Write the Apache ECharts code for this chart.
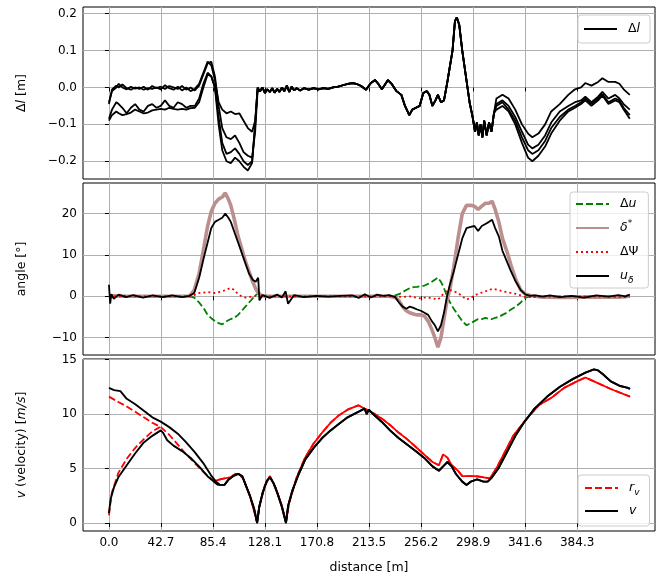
<!DOCTYPE html>
<html>
<head>
<meta charset="utf-8">
<script src="https://cdn.jsdelivr.net/npm/echarts@6/dist/echarts.min.js"></script>
<style>
html, body { margin: 0; padding: 0; background: #fff; }
#chart { width: 665px; height: 579px; }
</style>
</head>
<body>
<div id="chart"></div>
<script>
// ---- tick labels ----
const distTicks = [0.0, 42.7, 85.4, 128.1, 170.8, 213.5, 256.2, 298.9, 341.6, 384.3];
const dlTicks = [-0.2, -0.1, 0.0, 0.1, 0.2];
const angTicks = [-10, 0, 10, 20];
const velTicks = [0, 5, 10, 15];

// ---- top panel: Δl, four laps ----
const dlXStart = [0, 2.5, 6, 8, 11, 14.5, 18, 21.5, 25, 28.5, 32, 35.5, 39, 42.5, 46, 49.5, 53, 56.5, 60, 63.5, 67, 70.5, 74, 77.5, 81, 84, 87, 90, 93, 96.5, 100, 103.5, 107, 110.5, 114, 117.5, 120, 122];
const dlAStart = [-0.04, -0.01, 0.0, 0.01, 0.0, -0.005, 0.002, -0.003, 0.0, -0.006, -0.002, -0.004, 0.0, -0.005, 0.006, -0.002, -0.006, 0.002, -0.008, 0.0, -0.01, -0.004, 0.01, 0.04, 0.07, 0.06, 0.02, -0.04, -0.06, -0.07, -0.065, -0.072, -0.07, -0.09, -0.11, -0.12, -0.09, -0.005];
const dlBStart = [-0.045, -0.005, 0.005, 0.0, 0.008, -0.002, -0.006, 0.0, -0.004, 0.002, -0.006, 0.004, -0.002, 0.002, -0.004, 0.004, 0.0, -0.004, 0.004, -0.006, 0.0, -0.008, 0.005, 0.035, 0.065, 0.07, 0.03, -0.05, -0.11, -0.135, -0.14, -0.13, -0.15, -0.175, -0.185, -0.19, -0.12, -0.01];
const dlCStart = [-0.085, -0.06, -0.04, -0.045, -0.055, -0.07, -0.055, -0.045, -0.06, -0.065, -0.05, -0.045, -0.055, -0.05, -0.035, -0.05, -0.055, -0.04, -0.045, -0.055, -0.05, -0.05, -0.03, 0.01, 0.04, 0.03, 0.0, -0.08, -0.15, -0.18, -0.175, -0.165, -0.18, -0.2, -0.21, -0.2, -0.1, 0.0];
const dlDStart = [-0.09, -0.075, -0.065, -0.07, -0.075, -0.072, -0.068, -0.06, -0.065, -0.07, -0.068, -0.062, -0.06, -0.058, -0.06, -0.055, -0.058, -0.06, -0.058, -0.06, -0.056, -0.055, -0.04, 0.0, 0.035, 0.03, 0.0, -0.1, -0.17, -0.2, -0.205, -0.19, -0.2, -0.215, -0.225, -0.205, -0.1, 0.0];

// laps overlap here
const dlXMid = [124, 126, 128, 130, 132, 134, 136, 138, 140, 142, 144, 146, 148, 150, 152, 154, 157, 160, 164, 168, 172, 176, 180, 184, 188, 192, 196, 200, 203, 207, 211, 215, 218.5, 221, 224, 227, 229, 232, 236, 240, 243, 246.5, 249, 252, 255, 258, 261, 263, 265.5, 268, 270, 272.5, 275, 277.5, 279.5, 282, 284, 285.5, 287.5, 290, 293, 296, 298.5, 300.5, 302, 303.5, 305, 306.5, 308, 310, 312, 314, 316];
const dlMid = [-0.01, 0.0, -0.015, -0.005, -0.012, -0.002, -0.014, -0.004, -0.012, 0.0, -0.01, 0.005, -0.012, 0.002, -0.008, -0.002, -0.008, -0.002, -0.006, -0.002, -0.005, -0.002, -0.004, 0.0, 0.002, 0.006, 0.01, 0.012, 0.01, 0.004, -0.006, 0.012, 0.02, 0.01, -0.005, 0.01, 0.02, 0.01, -0.01, -0.02, -0.05, -0.075, -0.06, -0.055, -0.05, -0.015, -0.01, -0.02, -0.05, -0.035, -0.02, -0.04, -0.035, 0.01, 0.05, 0.1, 0.18, 0.19, 0.17, 0.1, 0.03, -0.04, -0.08, -0.12, -0.095, -0.13, -0.1, -0.135, -0.09, -0.13, -0.095, -0.12, -0.07];

const dlXEnd = [318, 323, 328, 333.5, 339, 344, 347.5, 352.5, 358, 363, 370, 377, 382.5, 387.5, 391, 396, 401.5, 405, 410, 415.5, 419, 422.5, 427.5];
const dlAEnd = [-0.03, -0.02, -0.03, -0.06, -0.1, -0.125, -0.135, -0.125, -0.1, -0.065, -0.045, -0.02, -0.005, 0.0, 0.012, 0.005, 0.015, 0.025, 0.015, 0.015, 0.01, -0.005, -0.02];
const dlBEnd = [-0.045, -0.035, -0.05, -0.08, -0.12, -0.155, -0.165, -0.155, -0.13, -0.095, -0.065, -0.05, -0.04, -0.035, -0.025, -0.04, -0.025, -0.012, -0.03, -0.02, -0.03, -0.045, -0.06];
const dlCEnd = [-0.05, -0.04, -0.06, -0.09, -0.135, -0.17, -0.18, -0.17, -0.145, -0.11, -0.08, -0.06, -0.05, -0.04, -0.03, -0.045, -0.03, -0.018, -0.04, -0.03, -0.035, -0.055, -0.075];
const dlDEnd = [-0.06, -0.05, -0.065, -0.1, -0.15, -0.19, -0.2, -0.185, -0.16, -0.125, -0.09, -0.065, -0.055, -0.045, -0.035, -0.05, -0.035, -0.022, -0.045, -0.035, -0.04, -0.06, -0.085];

// ---- middle panel: angles ----
const angX = [0, 1, 2, 4, 8, 14, 20, 28, 36, 44, 52, 60, 66, 70, 74, 78, 81, 84, 87, 90, 93, 95.5, 98, 100, 103, 106, 109, 112, 115, 118, 120.5, 122.5, 123.5, 126, 132, 138, 142, 145, 147, 152, 160, 170, 180, 190, 200, 205, 210, 215, 220, 225, 230, 235, 238, 241, 244, 247, 250, 253, 256, 259, 262, 265, 267.5, 270, 272.5, 275, 277.5, 280, 283, 286.5, 290, 293.5, 297, 300, 303, 306, 309, 312, 314.5, 317, 320, 323, 326.5, 330, 334, 338, 342, 346, 350, 356, 362, 370, 380, 390, 400, 410, 418, 424, 427.5];
const duVals = [0, 0, 0, 0, 0, 0, 0, 0, 0, 0, 0, 0, 0, -0.3, -1.5, -3, -4.5, -5.3, -6, -6.5, -6.8, -6.2, -5.8, -5.5, -5.2, -4.5, -3.5, -2.5, -1.5, -0.5, 0.3, 0.6, 0.2, 0, 0, 0, 0, 0, 0, 0, 0, 0, 0, 0, 0, 0, 0, 0, 0, 0, 0, 0.2, 0.5, 1, 1.5, 2, 2.2, 2.3, 2.5, 2.6, 3, 3.5, 4, 4.5, 3.5, 2, 0, -1.5, -3, -4.5, -6, -7, -6.5, -6, -5.5, -5.5, -5.2, -5.5, -5.5, -5.2, -5, -4.5, -4, -3.2, -2.5, -1.5, -0.3, 0, 0, 0, 0, 0, 0, 0, 0, 0, 0, 0, 0];
const dsVals = [0, 0, 0, 0.1, 0.1, 0, 0, 0, 0, 0, 0, 0, 0, 1.5, 5.5, 12, 17, 20.5, 22.5, 23.5, 24, 25, 23.5, 22, 18.5, 14.5, 11.5, 8.5, 6, 3.5, 1.8, 0.8, 0.4, 0.1, 0, 0, 0, 0, 0, 0, 0, 0, 0, 0, 0, 0, 0, 0, 0, 0, 0, -0.3, -1, -2.5, -3.5, -4, -4.3, -4.5, -4.5, -4.8, -6, -8, -10, -12.3, -10, -5.5, -1, 2, 7, 14, 20, 22, 22, 21.8, 21, 21.8, 22.5, 22.5, 23, 21, 18, 14, 11, 7.5, 4, 1.5, 0.5, 0.2, 0, -0.2, -0.2, -0.3, -0.3, -0.2, -0.2, -0.2, -0.2, -0.1, 0.2];
const dpsiVals = [0, 0, 0, 0, 0, 0.1, 0, 0, 0, 0, 0, 0, 0, 0.3, 0.8, 0.9, 1, 0.9, 0.8, 1, 1.2, 1.5, 1.8, 2, 1.5, 0.5, 0, -0.3, -0.2, 0, 0.1, 0, 0, 0, 0, 0, 0, 0, 0, 0, 0, 0, 0, 0, 0, 0, 0, 0, 0, 0, 0, 0, -0.1, -0.2, -0.1, 0, -0.2, -0.4, -0.5, -0.3, -0.3, -0.5, -0.6, -0.8, -0.1, 0.8, 1.3, 1.5, 1.2, 0.8, 0, -0.8, -0.4, 0.2, 0.6, 0.9, 1.2, 1.5, 1.8, 1.7, 1.5, 1.2, 1, 0.8, 0.6, 0.2, -0.2, -0.2, -0.2, -0.1, -0.1, -0.1, -0.1, -0.1, -0.1, -0.1, -0.2, -0.2, -0.1];
const udVals = [2.8, -1.8, 0.5, -0.6, 0.4, -0.2, 0.3, -0.3, 0.2, -0.2, 0.2, -0.2, 0.1, 0.8, 4.5, 9.5, 13, 16.5, 18, 18.5, 19, 20, 19, 18, 15.5, 13, 10.5, 8, 5.5, 4, 3.5, 4.5, -1, 0.3, -0.4, 0.4, -0.3, 1.2, -1.8, 0.3, -0.2, 0.1, -0.1, 0.1, 0.2, -0.4, 0.5, -0.3, 0.4, 0.1, 0.3, -0.2, -1.5, -2.5, -3, -2.5, -2.8, -3.2, -3.5, -4, -4.5, -6, -7, -8.5, -7, -4, 0, 3, 6, 10, 14, 16.5, 16.8, 17, 15.8, 17, 17.5, 18, 18.5, 16.5, 14.5, 11, 8.5, 6, 3.5, 1.5, 0.4, 0.1, 0.2, -0.1, 0.2, -0.2, 0.1, -0.3, 0.2, -0.1, 0.3, 0, 0.4];

// ---- bottom panel: velocity ----
const rvDownX = [0, 7.7, 14.6, 21.6, 28.6, 35.6, 42.5];
const rvDown = [11.6, 11.1, 10.7, 10.2, 9.7, 9.2, 8.8];
const rvUpX = [0, 1.4, 2.4, 7.7, 14.6, 21.6, 28.6, 35.6, 41.8];
const rvUp = [0.7, 2.0, 2.8, 4.6, 5.9, 6.9, 7.7, 8.4, 8.8];
const rvX = [42.5, 49.5, 56.5, 63.4, 70.4, 77.4, 84.3, 87.8, 91.3, 94.8, 100.0, 103.5, 107.0, 110.5, 115.7, 121.6, 123.4, 127.9, 132.1, 136.6, 141.9, 145.3, 147.8, 154.1, 161.0, 168.0, 175.0, 181.9, 188.9, 195.9, 204.6, 209.8, 216.8, 223.8, 230.7, 237.7, 244.7, 251.7, 258.6, 265.6, 270.8, 274.3, 277.8, 281.3, 286.5, 290.0, 293.5, 300.5, 307.4, 312.7, 317.9, 324.9, 331.8, 342.3, 352.7, 363.2, 373.6, 384.1, 391.1, 398.1, 411.9, 427.7];
const rvVals = [8.8, 8.1, 7.2, 6.3, 5.5, 4.7, 4.0, 3.9, 4.0, 4.1, 4.2, 4.5, 4.5, 4.0, 2.5, 0.1, 1.5, 3.4, 4.3, 3.3, 1.6, 0.1, 1.8, 4.2, 6.0, 7.3, 8.3, 9.2, 9.9, 10.4, 10.8, 10.5, 10.1, 9.6, 9.0, 8.3, 7.7, 7.0, 6.3, 5.6, 5.3, 6.3, 6.0, 5.3, 4.8, 4.3, 4.3, 4.3, 4.2, 4.1, 5.0, 6.5, 8.0, 9.5, 10.8, 11.5, 12.4, 13.0, 13.35, 13.0, 12.3, 11.6];

const vDownX = [0, 4.2, 9.4, 14.6, 21.6, 28.6, 35.6, 42.5, 49.5, 56.5, 63.4, 70.4, 77.4, 84.3, 87.8, 91.3];
const vDown = [12.4, 12.2, 12.1, 11.4, 10.9, 10.3, 9.7, 9.3, 8.8, 8.2, 7.4, 6.5, 5.5, 4.3, 3.8, 3.5];
const vUpX = [0, 1.4, 4.2, 7.7, 14.6, 21.6, 28.6, 35.6, 42.5, 44.3, 47.8, 53.0, 60.0, 66.9, 73.9, 80.9, 86.1, 89.6, 93.1];
const vUp = [0.9, 2.2, 3.3, 4.2, 5.3, 6.4, 7.4, 8.0, 8.5, 8.3, 7.6, 7.1, 6.6, 6.0, 5.2, 4.3, 3.8, 3.5, 3.5];
const vX = [94.8, 98.3, 101.8, 106.0, 109.4, 112.2, 115.7, 119.2, 121.6, 123.4, 126.2, 129.7, 132.1, 134.9, 138.4, 141.9, 145.3, 147.1, 150.6, 155.8, 161.0, 168.0, 175.0, 181.9, 188.9, 195.9, 204.6, 209.8, 211.6, 213.3, 216.8, 223.8, 230.7, 237.7, 244.7, 251.7, 258.6, 265.6, 270.8, 274.3, 277.8, 281.3, 284.8, 290.0, 293.5, 297.0, 302.2, 307.4, 310.9, 314.4, 319.6, 326.6, 333.6, 340.5, 349.3, 359.7, 370.2, 380.6, 391.1, 398.1, 401.5, 405.0, 411.9, 418.9, 425.9, 427.7];
const vVals = [3.5, 4.0, 4.3, 4.5, 4.3, 3.5, 2.5, 1.3, 0, 1.5, 2.8, 3.9, 4.2, 3.7, 2.7, 1.5, 0, 1.6, 3.0, 4.5, 5.8, 6.9, 7.8, 8.5, 9.1, 9.7, 10.2, 10.5, 10.0, 10.4, 10.0, 9.3, 8.5, 7.8, 7.2, 6.6, 6.0, 5.2, 4.8, 5.2, 5.6, 5.2, 4.5, 3.8, 3.5, 3.8, 4.0, 3.8, 3.8, 4.2, 5.0, 6.5, 8.0, 9.2, 10.5, 11.6, 12.5, 13.2, 13.8, 14.1, 14.0, 13.7, 13.0, 12.6, 12.4, 12.3];

const FONT = 'DejaVu Sans';

function pairs(xs, ys) {
    return xs.map(function (x, i) { return [x, ys[i]]; });
}
function minus(s) { return s.replace('-', '\u2212'); }

const rich = {
    i: { fontFamily: FONT, fontStyle: 'italic', fontSize: 12.5, lineHeight: 18 },
    sub: { fontFamily: FONT, fontStyle: 'italic', fontSize: 9, lineHeight: 8, verticalAlign: 'bottom' },
    sup: { fontFamily: FONT, fontSize: 9, lineHeight: 9, verticalAlign: 'top' }
};
const legendLabels = {
    dl: 'Δ{i|l}', du: 'Δ{i|u}', ds: '{i|δ}{sup|*}', dpsi: 'ΔΨ',
    ud: '{i|u}{sub|δ}', rv: '{i|r}{sub|v}', v: '{i|v}'
};

function xAx(idx, showLabel) {
    return {
        type: 'value', gridIndex: idx, min: -21.3, max: 448.2,
        name: showLabel ? 'distance [m]' : '',
        nameLocation: 'middle', nameGap: 30,
        nameTextStyle: { fontFamily: FONT, fontSize: 12.5, color: '#000' },
        axisLine: { show: false },
        axisTick: { show: true, length: 4, lineStyle: { color: '#000', width: 1 }, customValues: distTicks },
        axisLabel: {
            show: showLabel, customValues: distTicks, margin: 6,
            color: '#000', fontFamily: FONT, fontSize: 12,
            formatter: function (v) { return v.toFixed(1); }
        },
        splitLine: { show: true, lineStyle: { color: '#b0b0b0', width: 1 } }
    };
}
function yAx(idx, min, max, ticks, digits, name) {
    return {
        type: 'value', gridIndex: idx, min: min, max: max,
        name: name, nameLocation: 'middle', nameGap: 52, nameRotate: 90,
        nameTextStyle: { fontFamily: FONT, fontSize: 12.5, color: '#000', lineHeight: 18, rich: rich },
        axisLine: { show: false },
        axisTick: { show: true, length: 4, lineStyle: { color: '#000', width: 1 }, customValues: ticks },
        axisLabel: {
            customValues: ticks, margin: 6, color: '#000', fontFamily: FONT, fontSize: 12,
            formatter: function (v) { return minus(v.toFixed(digits)); }
        },
        splitLine: { show: true, lineStyle: { color: '#b0b0b0', width: 1 } }
    };
}
function legendBox(names, left, top, gap, padding) {
    return {
        data: names, orient: 'vertical', left: left, top: top,
        itemWidth: 33, itemHeight: 12, itemGap: gap, padding: padding,
        selectedMode: false, align: 'left',
        // hide the marker circle, keep only the line
        itemStyle: { color: 'transparent', borderColor: 'transparent', borderWidth: 0, opacity: 0 },
        backgroundColor: 'rgba(255,255,255,0.8)', borderColor: '#cccccc', borderWidth: 1, borderRadius: 3,
        textStyle: { fontFamily: FONT, fontSize: 12.5, color: '#000', lineHeight: 18, padding: [0, 0, 0, 6], rich: rich },
        formatter: function (n) { return legendLabels[n]; }
    };
}
function line(name, xi, data, color, width, type, z) {
    return {
        name: name, type: 'line', xAxisIndex: xi, yAxisIndex: xi, data: data,
        symbol: 'none', showSymbol: false, animation: false, z: z || 2,
        lineStyle: { color: color, width: width, type: type || 'solid' },
        itemStyle: { color: color }
    };
}

const chart = echarts.init(document.getElementById('chart'));
const gridBase = { left: 83, right: 10, height: 172, show: true, borderColor: '#000', borderWidth: 1, backgroundColor: 'transparent' };

chart.setOption({
    animation: false,
    backgroundColor: '#fff',
    grid: [
        Object.assign({ top: 7 }, gridBase),
        Object.assign({ top: 183 }, gridBase),
        Object.assign({ top: 359 }, gridBase)
    ],
    xAxis: [xAx(0, false), xAx(1, false), xAx(2, true)],
    yAxis: [
        yAx(0, -0.248, 0.218, dlTicks, 1, 'Δ{i|l} [m]'),
        yAx(1, -14.2, 27.4, angTicks, 0, 'angle [°]'),
        yAx(2, -0.73, 15.05, velTicks, 0, '{i|v} (velocity) [{i|m/s}]')
    ],
    legend: [
        legendBox(['dl'], 578, 15, 6, [5, 10, 5, 5]),
        legendBox(['du', 'ds', 'dpsi', 'ud'], 570, 192, 6, [3, 10, 3, 5]),
        legendBox(['rv', 'v'], 578, 475, 5, [4, 10, 6, 6])
    ],
    series: [
        line('dl', 0, pairs(dlXStart, dlAStart).concat(pairs(dlXMid, dlMid), pairs(dlXEnd, dlAEnd)), '#000', 1.8),
        line('dl', 0, pairs(dlXStart, dlBStart).concat(pairs(dlXMid, dlMid), pairs(dlXEnd, dlBEnd)), '#000', 1.8),
        line('dl', 0, pairs(dlXStart, dlCStart).concat(pairs(dlXMid, dlMid), pairs(dlXEnd, dlCEnd)), '#000', 1.8),
        line('dl', 0, pairs(dlXStart, dlDStart).concat(pairs(dlXMid, dlMid), pairs(dlXEnd, dlDEnd)), '#000', 1.8),

        line('du', 1, pairs(angX, duVals), '#008000', 1.8, [7, 3]),
        line('ds', 1, pairs(angX, dsVals), '#bc8f8f', 3.6, 'solid'),
        line('dpsi', 1, pairs(angX, dpsiVals), '#ff0000', 1.8, [2, 3]),
        line('ud', 1, pairs(angX, udVals), '#000', 1.8),

        line('rv', 2, pairs(rvDownX, rvDown).concat(pairs(rvX, rvVals)), '#ff0000', 1.8, [7, 3]),
        line('rv', 2, pairs(rvUpX, rvUp), '#ff0000', 1.8, [7, 3]),
        line('rv', 2, pairs(rvX.slice(7), rvVals.slice(7)), '#ff0000', 1.8, 'solid'),
        line('v', 2, pairs(vDownX, vDown).concat(pairs(vX, vVals)), '#000', 1.9, 'solid', 3),
        line('v', 2, pairs(vUpX, vUp).concat(pairs(vX, vVals)), '#000', 1.9, 'solid', 3)
    ]
});
</script>
</body>
</html>
